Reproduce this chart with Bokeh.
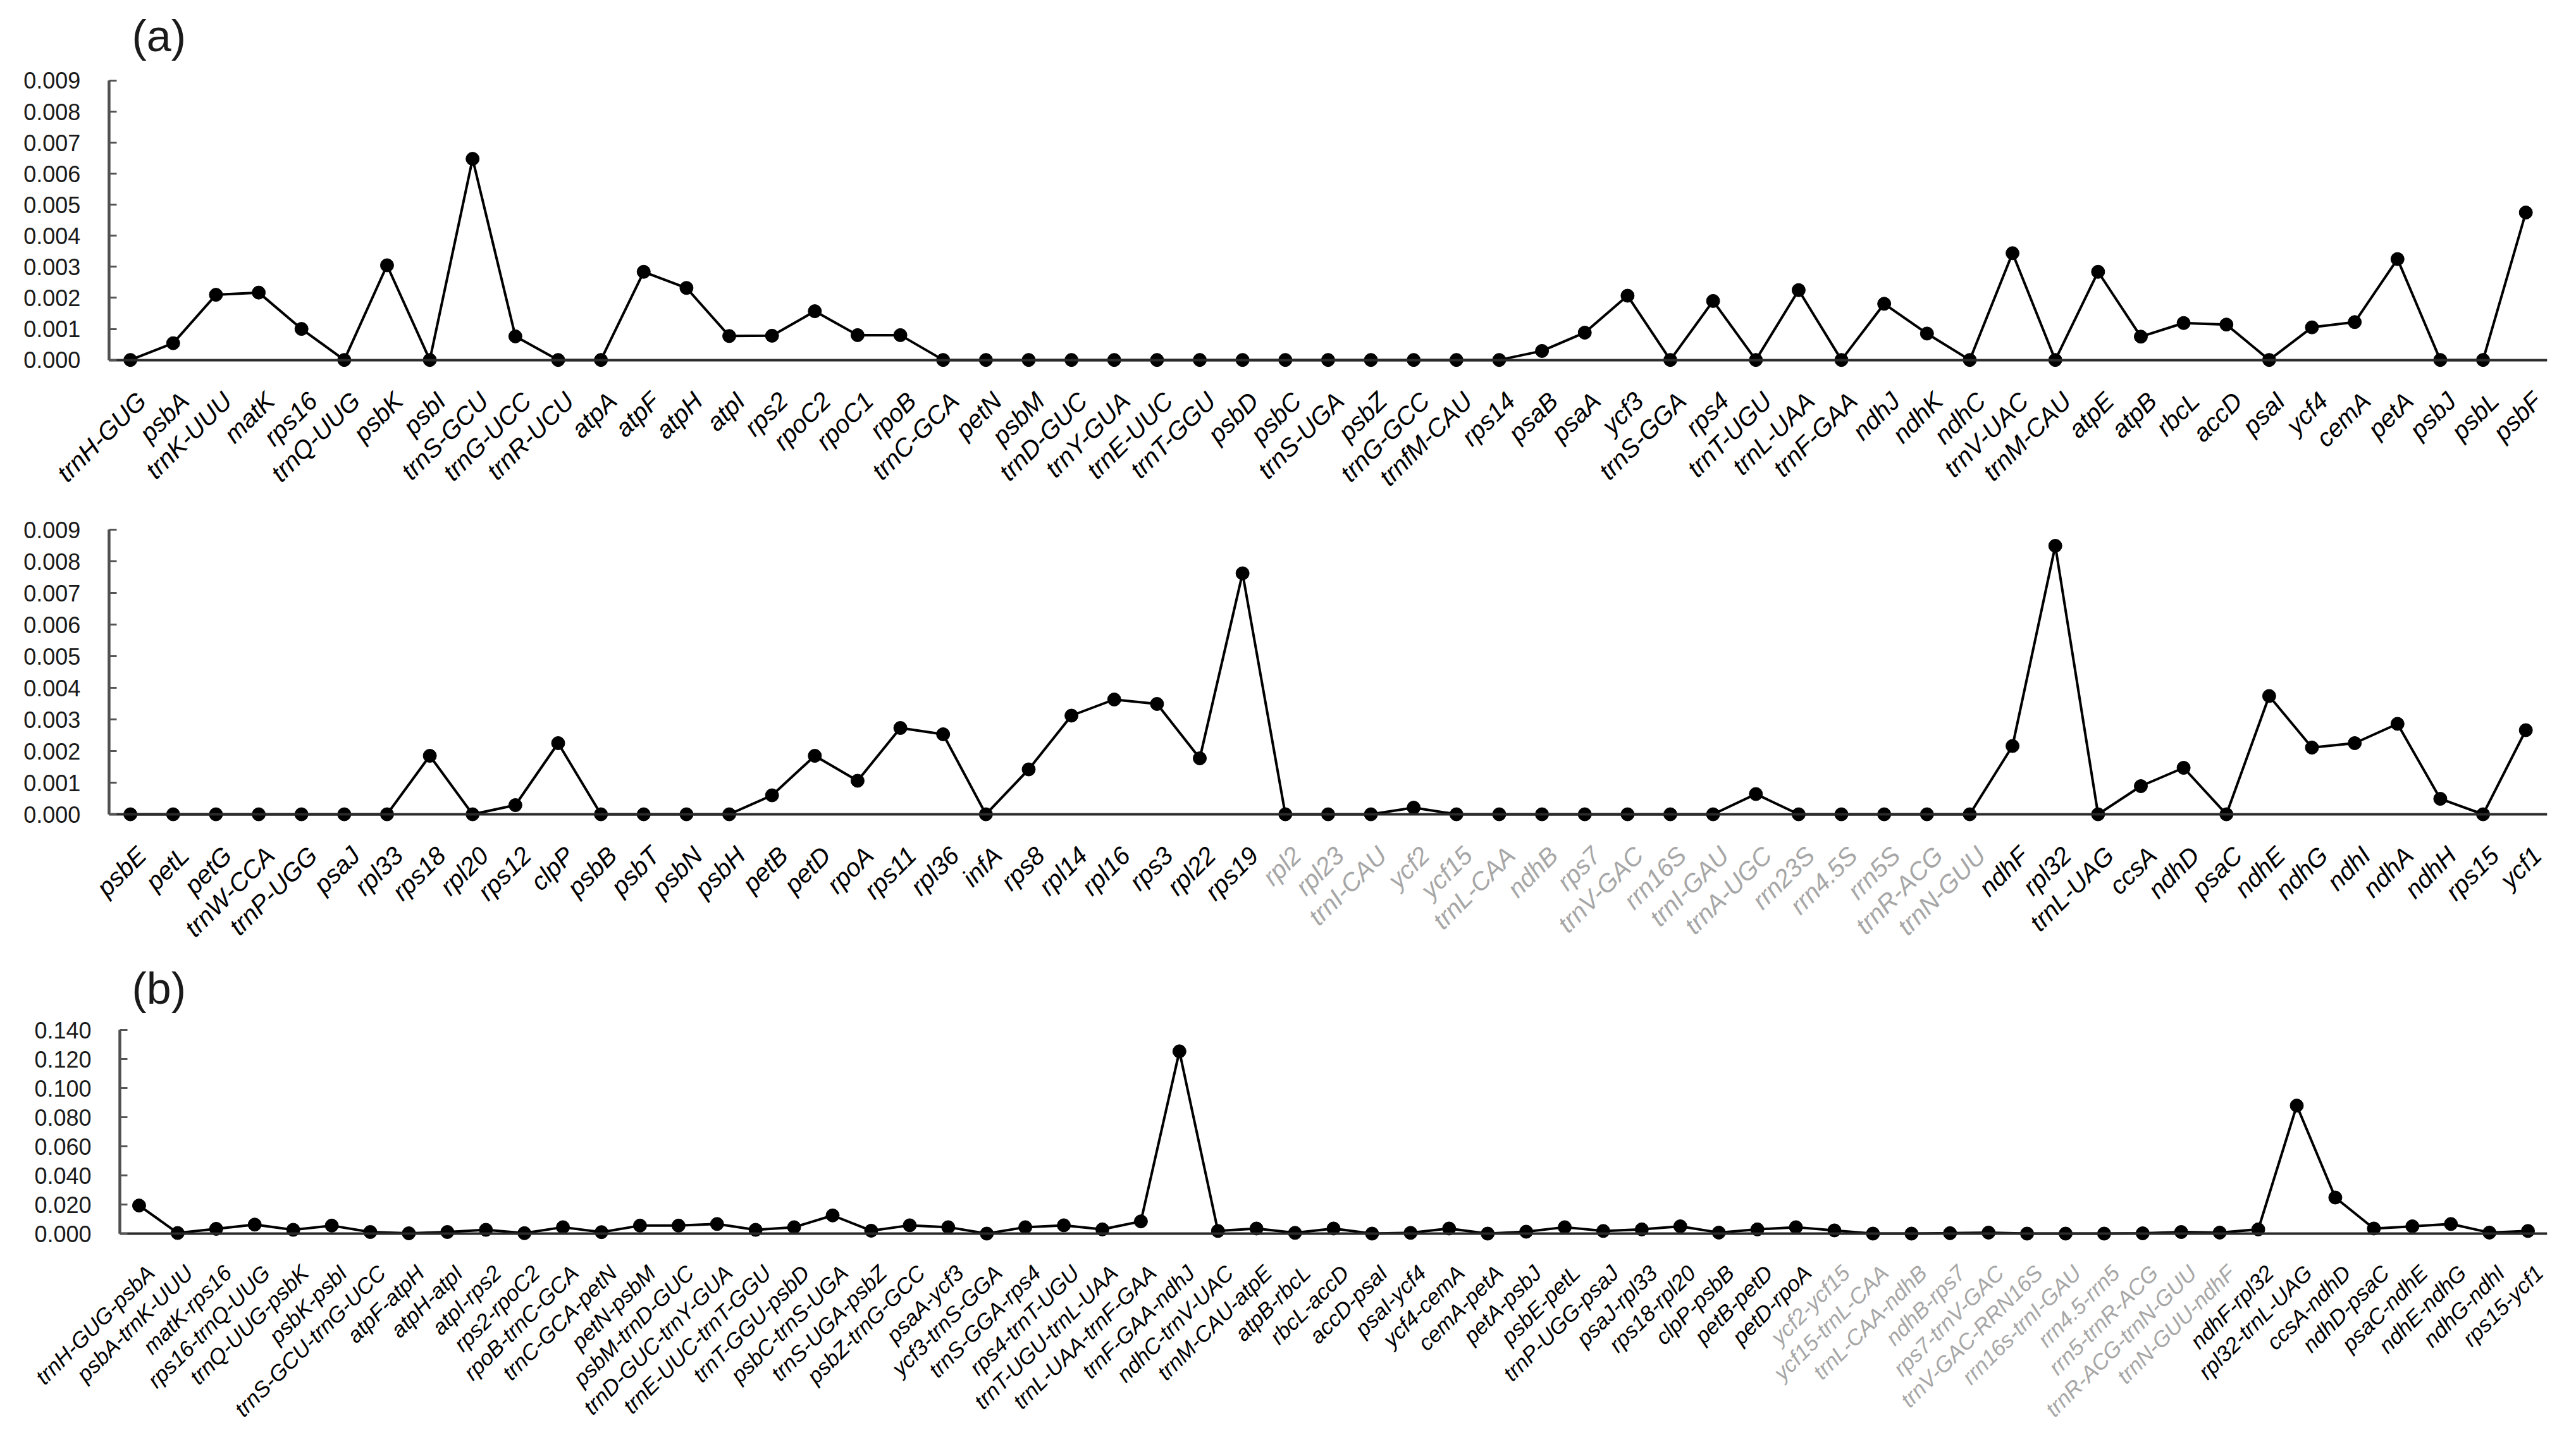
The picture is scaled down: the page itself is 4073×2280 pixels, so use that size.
import math
from bokeh.plotting import figure
from bokeh.layouts import column
from bokeh.models import (Range1d, FixedTicker, NumeralTickFormatter, LinearAxis,
                          ColumnDataSource)
from bokeh.core.properties import value
from bokeh.embed import file_html
from bokeh.resources import INLINE

# ---------------- data ----------------
genes_a1 = ["trnH-GUG", "psbA", "trnK-UUU", "matK", "rps16", "trnQ-UUG", "psbK", "psbI",
            "trnS-GCU", "trnG-UCC", "trnR-UCU", "atpA", "atpF", "atpH", "atpI", "rps2",
            "rpoC2", "rpoC1", "rpoB", "trnC-GCA", "petN", "psbM", "trnD-GUC", "trnY-GUA",
            "trnE-UUC", "trnT-GGU", "psbD", "psbC", "trnS-UGA", "psbZ", "trnG-GCC",
            "trnfM-CAU", "rps14", "psaB", "psaA", "ycf3", "trnS-GGA", "rps4", "trnT-UGU",
            "trnL-UAA", "trnF-GAA", "ndhJ", "ndhK", "ndhC", "trnV-UAC", "trnM-CAU", "atpE",
            "atpB", "rbcL", "accD", "psaI", "ycf4", "cemA", "petA", "psbJ", "psbL", "psbF"]
pi_a1 = [0.0, 0.00054, 0.0021, 0.00217, 0.0010, 0.0, 0.00305, 0.0, 0.00648, 0.00076,
         0.0, 0.0, 0.00284, 0.00232, 0.00077, 0.00078, 0.00157, 0.0008, 0.0008,
         0.0, 0.0, 0.0, 0.0, 0.0, 0.0, 0.0, 0.0, 0.0, 0.0, 0.0, 0.0, 0.0, 0.0,
         0.00029, 0.00088, 0.00207, 0.0, 0.0019, 0.0, 0.00225, 0.0, 0.00181, 0.00085,
         0.0, 0.00344, 0.0, 0.00284, 0.00075, 0.00119, 0.00114, 0.0, 0.00105, 0.00122,
         0.00325, 0.0, 0.0, 0.00475]

genes_a2 = ["psbE", "petL", "petG", "trnW-CCA", "trnP-UGG", "psaJ", "rpl33", "rps18", "rpl20",
            "rps12", "clpP", "psbB", "psbT", "psbN", "psbH", "petB", "petD", "rpoA", "rps11",
            "rpl36", "infA", "rps8", "rpl14", "rpl16", "rps3", "rpl22", "rps19", "rpl2",
            "rpl23", "trnI-CAU", "ycf2", "ycf15", "trnL-CAA", "ndhB", "rps7", "trnV-GAC",
            "rrn16S", "trnI-GAU", "trnA-UGC", "rrn23S", "rrn4.5S", "rrn5S", "trnR-ACG",
            "trnN-GUU", "ndhF", "rpl32", "trnL-UAG", "ccsA", "ndhD", "psaC", "ndhE", "ndhG",
            "ndhI", "ndhA", "ndhH", "rps15", "ycf1"]
pi_a2 = [0.0, 0.0, 0.0, 0.0, 0.0, 0.0, 0.0, 0.00185, 0.0, 0.00029, 0.00225,
         0.0, 0.0, 0.0, 0.0, 0.0006, 0.00185, 0.00106, 0.00273, 0.00253, 0.0,
         0.00142, 0.00312, 0.00363, 0.00349, 0.00177, 0.00762, 0.0, 0.0, 0.0, 0.00021,
         0.0, 0.0, 0.0, 0.0, 0.0, 0.0, 0.0, 0.00064, 0.0, 0.0, 0.0, 0.0, 0.0,
         0.00216, 0.00849, 0.0, 0.00089, 0.00147, 0.0, 0.00374, 0.00211, 0.00225,
         0.00286, 0.00049, 0.0, 0.00266]
ir_genes_a2 = ["rpl2", "rpl23", "trnI-CAU", "ycf2", "ycf15", "trnL-CAA", "ndhB", "rps7",
               "trnV-GAC", "rrn16S", "trnI-GAU", "trnA-UGC", "rrn23S", "rrn4.5S", "rrn5S",
               "trnR-ACG", "trnN-GUU"]

regions_b = ["trnH-GUG-psbA", "psbA-trnK-UUU", "matK-rps16", "rps16-trnQ-UUG", "trnQ-UUG-psbK",
             "psbK-psbI", "trnS-GCU-trnG-UCC", "atpF-atpH", "atpH-atpI", "atpI-rps2",
             "rps2-rpoC2", "rpoB-trnC-GCA", "trnC-GCA-petN", "petN-psbM", "psbM-trnD-GUC",
             "trnD-GUC-trnY-GUA", "trnE-UUC-trnT-GGU", "trnT-GGU-psbD", "psbC-trnS-UGA",
             "trnS-UGA-psbZ", "psbZ-trnG-GCC", "psaA-ycf3", "ycf3-trnS-GGA", "trnS-GGA-rps4",
             "rps4-trnT-UGU", "trnT-UGU-trnL-UAA", "trnL-UAA-trnF-GAA", "trnF-GAA-ndhJ",
             "ndhC-trnV-UAC", "trnM-CAU-atpE", "atpB-rbcL", "rbcL-accD", "accD-psaI",
             "psaI-ycf4", "ycf4-cemA", "cemA-petA", "petA-psbJ", "psbE-petL", "trnP-UGG-psaJ",
             "psaJ-rpl33", "rps18-rpl20", "clpP-psbB", "petB-petD", "petD-rpoA",
             "ycf2-ycf15", "ycf15-trnL-CAA", "trnL-CAA-ndhB", "ndhB-rps7", "rps7-trnV-GAC",
             "trnV-GAC-RRN16S", "rrn16s-trnI-GAU", "rrn4.5-rrn5", "rrn5-trnR-ACG",
             "trnR-ACG-trnN-GUU", "trnN-GUU-ndhF", "ndhF-rpl32", "rpl32-trnL-UAG",
             "ccsA-ndhD", "ndhD-psaC", "psaC-ndhE", "ndhE-ndhG", "ndhG-ndhI", "rps15-ycf1"]
pi_b = [0.0193, 0.0004, 0.0033, 0.0062, 0.0026, 0.0055, 0.0011, 0.0002, 0.0011, 0.0026,
        0.0003, 0.0044, 0.0010, 0.0055, 0.0055, 0.0066, 0.0026, 0.0044, 0.0125, 0.0020,
        0.0057, 0.0044, 0.0000, 0.0044, 0.0057, 0.0029, 0.0084, 0.1253, 0.0018, 0.0035,
        0.0005, 0.0035, 0.0000, 0.0005, 0.0035, 0.0000, 0.0013, 0.0044, 0.0018, 0.0029,
        0.0050, 0.0007, 0.0029, 0.0044, 0.0022, 0.0000, 0.0000, 0.0003, 0.0007, 0.0000,
        0.0000, 0.0000, 0.0002, 0.0011, 0.0007, 0.0029, 0.0880, 0.0248, 0.0035, 0.0050,
        0.0066, 0.0007, 0.0018]
ir_regions_b = ["ycf2-ycf15", "ycf15-trnL-CAA", "trnL-CAA-ndhB", "ndhB-rps7", "rps7-trnV-GAC",
                "trnV-GAC-RRN16S", "rrn16s-trnI-GAU", "rrn4.5-rrn5", "rrn5-trnR-ACG",
                "trnR-ACG-trnN-GUU", "trnN-GUU-ndhF"]

yticks_a = [0.000, 0.001, 0.002, 0.003, 0.004, 0.005, 0.006, 0.007, 0.008, 0.009]
yticks_b = [0.000, 0.020, 0.040, 0.060, 0.080, 0.100, 0.120, 0.140]

# ---------------- styling ----------------
FONT = "Liberation Sans"
PAGE_W = 4057
GRAY = "#a6a6a6"
PAD_TOP = 16


def panel(labels, vals, gray, ticks, title, t_standoff,
          H, top, data_px, axis_px, right_px, lab_size, lab_gap, lab_dx):
    """The frame spans the figure from its left edge to its bottom; the y axis is
    fixed at x=0 (axis_px from the frame's left), categories fill [0, n], and the
    rotated category labels are drawn under the zero line inside the frame."""
    n = len(labels)
    ymax = ticks[-1]
    frame_h = H - top
    frame_w = PAGE_W - right_px
    ytop = ymax * (1 + PAD_TOP / data_px)
    ystart = -ymax * (frame_h - PAD_TOP - data_px) / data_px
    xstart = -n * axis_px / (frame_w - axis_px)
    p = figure(x_range=Range1d(xstart, n), y_range=Range1d(ystart, ytop),
               width=PAGE_W, height=H, output_backend="svg", toolbar_location=None,
               x_axis_location=None, y_axis_location=None,
               min_border_left=0, min_border_right=right_px,
               min_border_top=top, min_border_bottom=0)
    p.outline_line_color = None
    p.grid.visible = False

    p.title.text = title
    p.title.text_font = FONT
    p.title.text_font_size = "70px"
    p.title.text_font_style = "normal"
    p.title.text_color = "#1a1a1a"
    p.title.offset = 208
    p.title.standoff = t_standoff

    yax = LinearAxis(fixed_location=0, bounds=(0, ymax),
                     ticker=FixedTicker(ticks=ticks),
                     formatter=NumeralTickFormatter(format="0.000"))
    yax.minor_tick_line_color = None
    yax.major_tick_in = 12
    yax.major_tick_out = 0
    yax.major_tick_line_width = 3
    yax.major_tick_line_color = "#555555"
    yax.axis_line_width = 4
    yax.axis_line_color = "#505050"
    yax.major_label_text_font = FONT
    yax.major_label_text_font_size = "36px"
    yax.major_label_text_color = "#1a1a1a"
    yax.major_label_standoff = 45
    p.add_layout(yax, "left")

    # horizontal base line: an x axis fixed at y=0, spanning the categories
    xax = LinearAxis(fixed_location=0, bounds=(0, n), ticker=FixedTicker(ticks=[]))
    xax.axis_line_width = 4
    xax.axis_line_color = "#2b2b2b"
    xax.major_tick_line_color = None
    xax.minor_tick_line_color = None
    xax.major_label_text_color = None
    p.add_layout(xax, "below")

    # reinforce the vertical axis line (same place as the y axis line)
    p.segment(x0=[0], y0=[0], x1=[0], y1=[ymax], line_color="#505050", line_width=4)

    xs = [i + 0.5 for i in range(n)]
    colors = [GRAY if g in gray else "#000000" for g in labels]
    lab_y = -ymax * lab_gap / data_px
    src = ColumnDataSource(dict(x=xs, g=labels, v=vals, yl=[lab_y] * n,
                                label_color=colors))
    p.line(x="x", y="v", source=src, line_color="black", line_width=4)
    p.scatter(x="x", y="v", source=src, size=21, fill_color="black", line_color="black")
    p.text(x="x", y="yl", text="g", source=src, angle=math.pi / 4,
           text_align="right", text_baseline="middle", x_offset=lab_dx,
           text_font=value(FONT), text_font_style="italic",
           text_font_size=lab_size, text_color="label_color")
    return p


# panel 1: page y 8..790, top tick at 133, zero at 576, axis x 181, right end 4062
p1 = panel(genes_a1, pi_a1, [], yticks_a, "(a)", 31,
           782, 109, 443, 173, 3, "40px", 58, 18)
# panel 2: page y 790..1510, top tick at 845, zero at 1295
p2 = panel(genes_a2, pi_a2, ir_genes_a2, yticks_a, "", 5,
           720, 39, 450, 173, 3, "40px", 58, 18)
# panel 3: page y 1510..2272, top tick at 1636, zero at 1958, axis x 197, right end 4035
p3 = panel(regions_b, pi_b, ir_regions_b, yticks_b, "(b)", 21,
           762, 110, 322, 189, 30, "35px", 56, 18)

layout = column(p1, p2, p3, spacing=0)
open("out.html", "w").write(file_html(layout, INLINE))
